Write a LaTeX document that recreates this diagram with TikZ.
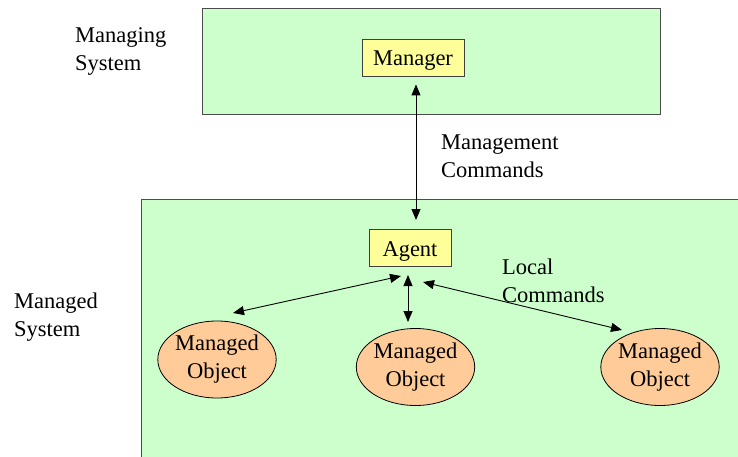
\documentclass[tikz,border=0pt]{standalone}
\usepackage{fontspec}
\setmainfont{Liberation Serif}
\usetikzlibrary{arrows.meta,shapes.geometric}
\begin{document}
\begin{tikzpicture}[x=1pt,y=-1pt,
  sysbox/.style={draw=black!70,line width=0.8pt},
  lbl/.style={font=\fontsize{22.5}{28}\selectfont,align=left,inner sep=0pt,anchor=west},
  yelbox/.style={draw=black!75,line width=0.8pt,font=\fontsize{22.5}{28}\selectfont,minimum height=37pt,inner sep=0pt,text height=18pt,text depth=1pt},
  mobj/.style={ellipse,draw=black,line width=0.8pt,font=\fontsize{22.5}{28}\selectfont,align=center,inner sep=0pt,minimum width=107pt,minimum height=77pt},
  conn/.style={{Triangle[length=11pt,width=9pt]}-{Triangle[length=11pt,width=9pt]},line width=0.9pt}
]
\useasboundingbox (0,0) rectangle (738,457);
\clip (0,0) rectangle (738,457);
\fill[white] (0,0) rectangle (738,457);
\definecolor{sysgreen}{HTML}{CCFFCC}
\definecolor{mgryellow}{HTML}{FFFF99}
\definecolor{objorange}{HTML}{FFCC99}
\draw[sysbox,fill=sysgreen] (202,8) rectangle (660,114);
\draw[sysbox,fill=sysgreen] (141,199) rectangle (760,480);
\node[yelbox,fill=mgryellow,minimum width=102pt] (manager) at (413,57.5) {Manager};
\node[yelbox,fill=mgryellow,minimum width=82pt] (agent) at (410,248) {Agent};
\node[mobj,fill=objorange] (obj1) at (217,359.5) {Managed\\Object};
\node[mobj,fill=objorange] (obj2) at (415.5,367) {Managed\\Object};
\node[mobj,fill=objorange] (obj3) at (660,367) {Managed\\Object};
\node[lbl] (lmgs) at (75,51) {Managing\\System};
\node[lbl] (lmc) at (441,156) {Management\\Commands};
\node[lbl] (llc) at (502,281) {Local\\Commands};
\node[lbl] (lmds) at (14,317) {Managed\\System};
\coordinate (m1) at (416,85);
\coordinate (a1) at (416,220);
\coordinate (aL) at (401,276);
\coordinate (oL) at (233,313);
\coordinate (aM) at (408,275);
\coordinate (oM) at (408,322);
\coordinate (aR) at (423,282);
\coordinate (oR) at (622,330);
\draw[conn] (manager.south -| m1) ++(0,8) -- (a1);
\draw[conn] (aL) -- (oL);
\draw[conn] (aM) -- (oM);
\draw[conn] (aR) -- (oR);
\end{tikzpicture}
\end{document}
